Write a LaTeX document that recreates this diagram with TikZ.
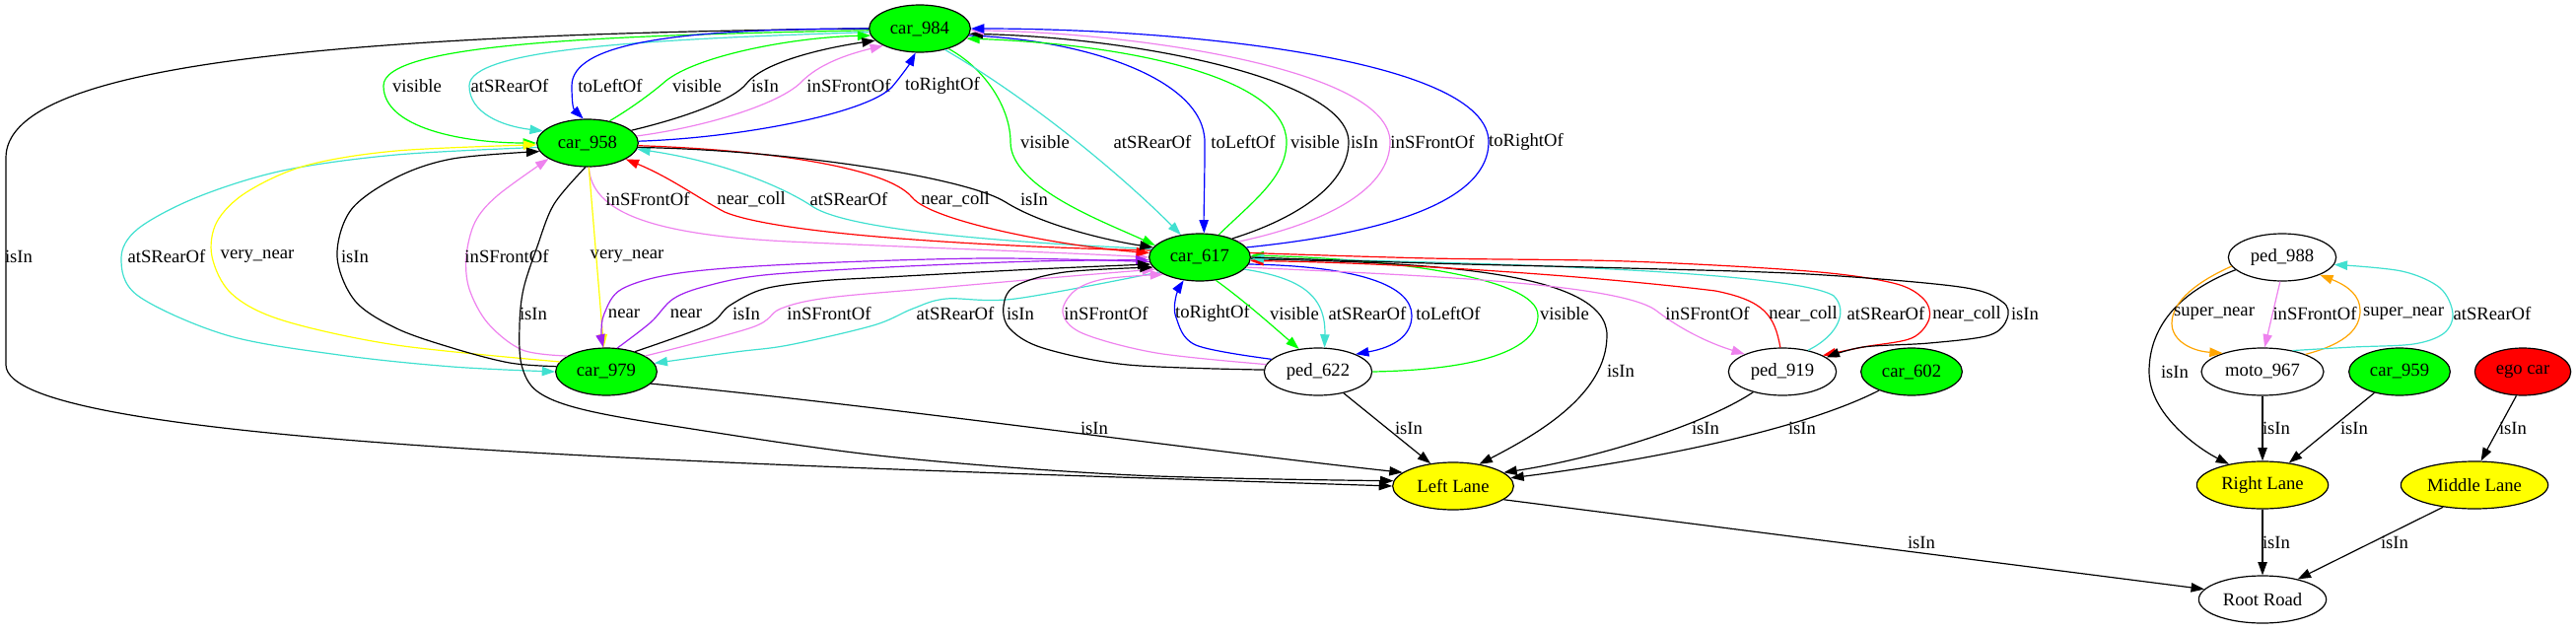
\documentclass[tikz,border=0pt]{standalone}
\usepackage{fontspec}
\setmainfont{Liberation Serif}
\usetikzlibrary{shapes.geometric,arrows.meta}
\definecolor{cgreen}{RGB}{0,255,0}
\definecolor{cturq}{RGB}{64,224,208}
\definecolor{cblue}{RGB}{0,0,255}
\definecolor{cviolet}{RGB}{238,130,238}
\definecolor{cred}{RGB}{255,0,0}
\definecolor{cyellow}{RGB}{255,255,0}
\definecolor{cpurple}{RGB}{160,32,240}
\definecolor{corange}{RGB}{255,165,0}
\begin{document}
\begin{tikzpicture}[x=0.75pt,y=-0.75pt,
  every node/.style={font=\fontsize{14}{16}\selectfont},
  nd/.style={ellipse, draw=black, line width=0.9pt, inner sep=0pt, minimum height=36pt},
  car/.style={nd, fill=cgreen, minimum width=77pt},
  ped/.style={nd, fill=white, minimum width=82pt},
  lane/.style={nd, fill=cyellow},
  lbl/.style={inner sep=0pt},
  e/.style={line width=0.9pt, -{Triangle[length=10pt,width=7pt]}},
  sm/.style={smooth, tension=0.55}
]
\useasboundingbox (0,0) rectangle (2613,639);
% nodes
\node[car] (c984) at (933,29) {car\_984};
\node[car] (c958) at (596,145) {car\_958};
\node[car] (c617) at (1217,261) {car\_617};
\node[car] (c979) at (615,377) {car\_979};
\node[ped] (p622) at (1337,377) {ped\_622};
\node[ped] (p919) at (1808,377) {ped\_919};
\node[car] (c602) at (1939,377) {car\_602};
\node[lane, minimum width=92pt] (LL) at (1474,493) {Left Lane};
\node[ped] (p988) at (2315,261) {ped\_988};
\node[ped, minimum width=93pt] (m967) at (2295,377) {moto\_967};
\node[car] (c959) at (2434,377) {car\_959};
\node[nd, fill=cred, minimum width=73pt] (ego) at (2559,377) {ego car};
\node[lane, minimum width=100pt] (RL) at (2295,492) {Right Lane};
\node[lane, minimum width=112pt] (ML) at (2510,492) {Middle Lane};
\node[nd, fill=white, minimum width=97pt] (RR) at (2295,608) {Root Road};

% car_984 -> Left Lane
\draw[e] (c984.west) .. controls (300,35) and (6,70) .. (6,160) -- (6,370) .. controls (6,450) and (700,470) .. (LL.west);
\node[lbl] (t1) at (19,260) {isIn};
% car_984 <-> car_958
\draw[e,cgreen] (c984.182) .. controls (600,36) and (389,45) .. (389,87) .. controls (389,130) and (470,145) .. (c958.west);
\node[lbl] (t2) at (423,87) {visible};
\draw[e,cturq] (c984.184) .. controls (650,40) and (476,50) .. (476,87) .. controls (476,115) and (510,128) .. (c958.165);
\node[lbl] (t3) at (517,87) {atSRearOf};
\draw[e,cblue] (c984.180) .. controls (680,29) and (580,45) .. (580,87) .. controls (580,100) and (581,110) .. (c958.100);
\node[lbl] (t4) at (619,87) {toLeftOf};
\draw[e,cgreen] (c958.45) .. controls (640,110) and (660,95) .. (672,85) .. controls (700,58) and (800,38) .. (c984.188);
\node[lbl] (t5) at (707,87) {visible};
\draw[e] (c958.16) .. controls (700,118) and (745,100) .. (757,85) .. controls (775,62) and (840,48) .. (c984.195);
\node[lbl] (t6) at (776,87) {isIn};
\draw[e,cviolet] (c958.8) .. controls (720,128) and (790,105) .. (812,84) .. controls (830,65) and (860,55) .. (c984.205);
\node[lbl] (t7) at (861,87) {inSFrontOf};
\draw[e,cblue] (c958.2) .. controls (750,140) and (880,115) .. (905,88) .. controls (915,76) and (922,66) .. (c984.260);
\node[lbl] (t8) at (956,87) {toRightOf};
% car_984 <-> car_617
\draw[e,cgreen] (c984.-35) .. controls (1000,70) and (1025,110) .. (1025,144) .. controls (1025,190) and (1120,225) .. (c617.165);
\node[lbl] (t9) at (1060,144) {visible};
\draw[e,cturq] (c984.-40) .. controls (1060,110) and (1150,190) .. (c617.130);
\node[lbl] (t10) at (1169,144) {atSRearOf};
\draw[e,cblue] (c984.-8) .. controls (1100,40) and (1222,80) .. (1222,144) .. controls (1222,190) and (1221,215) .. (c617.80);
\node[lbl] (t11) at (1261,144) {toLeftOf};
\draw[e,cgreen] (c617.50) .. controls (1270,205) and (1305,180) .. (1305,144) .. controls (1305,80) and (1150,45) .. (c984.-12);
\node[lbl] (t12) at (1334,144) {visible};
\draw[e] (c617.30) .. controls (1320,220) and (1368,185) .. (1368,144) .. controls (1368,80) and (1150,38) .. (c984.-6);
\node[lbl] (t13) at (1384,144) {isIn};
\draw[e,cviolet] (c617.22) .. controls (1350,225) and (1410,190) .. (1410,144) .. controls (1410,70) and (1150,33) .. (c984.-2);
\node[lbl] (t14) at (1453,144) {inSFrontOf};
\draw[e,cblue] (c617.12) .. controls (1420,235) and (1510,200) .. (1510,144) .. controls (1510,60) and (1200,29) .. (c984.east);
\node[lbl] (t15) at (1548,144) {toRightOf};
% car_958 <-> car_617
\draw[e,cviolet] (c958.-87) .. controls (600,215) and (660,238) .. (800,245) .. controls (950,252) and (1100,257) .. (c617.180);
\node[lbl] (t16) at (657,202) {inSFrontOf};
\draw[e,cred] (c617.172) .. controls (1000,250) and (790,238) .. (735,215) .. controls (710,202) and (680,180) .. (c958.-23);
\node[lbl] (t17) at (762,202) {near\_coll};
\draw[e,cturq] (c617.170) .. controls (1000,245) and (860,232) .. (825,210) .. controls (800,193) and (740,165) .. (c958.-7);
\node[lbl] (t18) at (861,202) {atSRearOf};
\draw[e,cred] (c958.-3) .. controls (780,152) and (900,170) .. (925,200) .. controls (945,225) and (1080,250) .. (c617.175);
\node[lbl] (t19) at (969,202) {near\_coll};
\draw[e] (c958.-5) .. controls (800,152) and (980,180) .. (1020,205) .. controls (1060,230) and (1130,245) .. (c617.168);
\node[lbl] (t20) at (1049,202) {isIn};
% car_958 <-> car_979
\draw[e,cturq] plot[sm] coordinates {(c958.185) (402,157) (287,173) (200,200) (140,232) (123,262) (140,300) (230,340) (344,360) (459,372) (c979.180)};
\node[lbl] (t21) at (169,260) {atSRearOf};
\draw[e,cyellow] plot[sm] coordinates {(c979.168) (402,350) (287,325) (235,298) (215,260) (220,225) (250,195) (310,168) (402,153) (c958.182)};
\node[lbl] (t22) at (261,260) {very\_near};
\draw[e] plot[sm] coordinates {(c979.174) (517,368) (459,353) (402,333) (360,305) (342,260) (356,213) (402,180) (459,161) (c958.190)};
\node[lbl] (t23) at (360,260) {isIn};
\draw[e,cviolet] plot[sm] coordinates {(c979.158) (530,355) (495,328) (476,293) (473,260) (482,225) (505,198) (c958.202)};
\node[lbl] (t24) at (514,260) {inSFrontOf};
\draw[e] plot[sm] coordinates {(c958.265) (562,207) (545,250) (531,293) (527,330) (529,370) (545,397) (590,415) (689,433) (900,463) (1150,482) (LL.175)};
\node[lbl] (t25) at (541,318) {isIn};
\draw[e,cyellow] (c958.-87) -- (c979.96);
\node[lbl] (t26) at (636,260) {very\_near};
% car_617 <-> car_979
\draw[e,cpurple] plot[sm] coordinates {(c617.185) (1000,262) (804,268) (689,277) (631,293) (613,318) (610,338) (c979.97)};
\node[lbl] (t27) at (633,318) {near};
\draw[e,cpurple] plot[sm] coordinates {(c979.65) (660,327) (683,303) (717,290) (775,279) (900,271) (1050,265) (c617.183)};
\node[lbl] (t28) at (696,318) {near};
\draw[e] plot[sm] coordinates {(c979.35) (717,330) (740,310) (775,293) (832,285) (900,281) (1050,273) (c617.188)};
\node[lbl] (t29) at (757,318) {isIn};
\draw[e,cviolet] plot[sm] coordinates {(c979.22) (763,332) (792,313) (840,302) (950,292) (1087,280) (c617.195)};
\node[lbl] (t30) at (841,318) {inSFrontOf};
\draw[e,cturq] plot[sm] coordinates {(c617.200) (1030,303) (960,303) (926,313) (886,330) (800,350) (746,357) (c979.10)};
\node[lbl] (t31) at (969,318) {atSRearOf};
% car_617 <-> ped_622
\draw[e] plot[sm] coordinates {(p622.178) (1144,370) (1058,353) (1024,333) (1018,310) (1030,290) (1080,276) (c617.192)};
\node[lbl] (t32) at (1035,318) {isIn};
\draw[e,cviolet] plot[sm] coordinates {(p622.172) (1173,358) (1098,338) (1078,317) (1090,295) (1120,283) (c617.205)};
\node[lbl] (t33) at (1122,318) {inSFrontOf};
\draw[e,cblue] plot[sm] coordinates {(p622.165) (1213,350) (1193,322) (1193,300) (c617.235)};
\node[lbl] (t34) at (1230,318) {toRightOf};
\draw[e,cgreen] (c617.-55) .. controls (1262,305) and (1290,330) .. (p622.130);
\node[lbl] (t35) at (1313,318) {visible};
\draw[e,cturq] (c617.-15) .. controls (1320,282) and (1345,300) .. (p622.75);
\node[lbl] (t36) at (1387,318) {atSRearOf};
\draw[e,cblue] (c617.-8) .. controls (1380,270) and (1432,290) .. (1432,320) .. controls (1432,340) and (1415,352) .. (p622.25);
\node[lbl] (t37) at (1469,318) {toLeftOf};
\draw[e,cgreen] (p622.east) .. controls (1500,375) and (1560,355) .. (1560,320) .. controls (1560,280) and (1400,262) .. (c617.2);
\node[lbl] (t38) at (1587,318) {visible};
\draw[e] (c617.-2) .. controls (1450,266) and (1630,275) .. (1630,340) .. controls (1630,400) and (1560,440) .. (LL.40);
\node[lbl] (t39) at (1644,376) {isIn};
% car_617 <-> ped_919
\draw[e,cviolet] (c617.-12) .. controls (1400,278) and (1640,285) .. (1680,315) .. controls (1710,338) and (1740,350) .. (p919.155);
\node[lbl] (t40) at (1732,318) {inSFrontOf};
\draw[e,cred] (p919.95) .. controls (1800,320) and (1790,305) .. (1740,295) .. controls (1600,278) and (1400,266) .. (c617.-4);
\node[lbl] (t41) at (1829,318) {near\_coll};
\draw[e,cturq] (p919.40) .. controls (1865,340) and (1875,315) .. (1860,300) .. controls (1820,275) and (1500,266) .. (c617.-1);
\node[lbl] (t42) at (1913,318) {atSRearOf};
\draw[e,cred] plot[sm] coordinates {(c617.5) (1450,262) (1650,265) (1834,275) (1920,287) (1951,303) (1957,323) (1939,343) (1890,352) (p919.22)};
\node[lbl] (t43) at (1995,318) {near\_coll};
\draw[e] plot[sm] coordinates {(c617.0) (1450,267) (1650,272) (1834,278) (1988,291) (2031,306) (2036,323) (2018,340) (1957,348) (1890,352) (p919.18)};
\node[lbl] (t44) at (2054,318) {isIn};
% into Left Lane
\draw[e] (c979.-15) .. controls (900,412) and (1200,455) .. (LL.165);
\node[lbl] (t45) at (1110,434) {isIn};
\draw[e] (p622.-40) -- (LL.135);
\node[lbl] (t46) at (1429,434) {isIn};
\draw[e] (p919.215) .. controls (1730,430) and (1620,465) .. (LL.15);
\node[lbl] (t47) at (1730,434) {isIn};
\draw[e] (c602.210) .. controls (1820,440) and (1650,470) .. (LL.8);
\node[lbl] (t48) at (1828,434) {isIn};
\draw[e] (LL.-15) -- (RR.170);
\node[lbl] (t49) at (1949,550) {isIn};
% right group
\draw[e] (p988.195) .. controls (2200,300) and (2180,340) .. (2180,377) .. controls (2180,420) and (2230,455) .. (RL.148);
\node[lbl] (t50) at (2206,377) {isIn};
\draw[e,corange] (p988.190) .. controls (2230,285) and (2203,305) .. (2203,328) .. controls (2203,345) and (2222,356) .. (m967.155);
\node[lbl] (t51) at (2246,318) {super\_near};
\draw[e,cviolet] (p988.-95) -- (m967.85);
\node[lbl] (t52) at (2348,318) {inSFrontOf};
\draw[e,corange] (m967.22) .. controls (2382,348) and (2394,332) .. (2394,315) .. controls (2394,300) and (2382,290) .. (p988.-25);
\node[lbl] (t53) at (2438,318) {super\_near};
\draw[e,cturq] plot[sm] coordinates {(m967.35) (2387,352) (2448,349) (2479,338) (2488,318) (2475,292) (2436,275) (p988.-8)};
\node[lbl] (t54) at (2528,318) {atSRearOf};
\draw[e] (m967.south) -- (RL.north);
\node[lbl] (t55) at (2309,434) {isIn};
\draw[e] (c959.220) -- (RL.40);
\node[lbl] (t56) at (2388,434) {isIn};
\draw[e] (ego.-105) -- (ML.75);
\node[lbl] (t57) at (2549,434) {isIn};
\draw[e] (RL.south) -- (RR.north);
\node[lbl] (t58) at (2309,550) {isIn};
\draw[e] (ML.215) -- (RR.30);
\node[lbl] (t59) at (2429,550) {isIn};
\end{tikzpicture}
\end{document}
